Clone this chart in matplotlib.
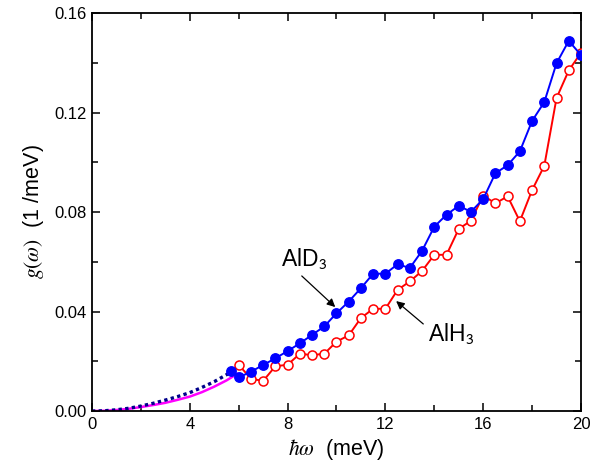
import matplotlib
matplotlib.use("Agg")
import matplotlib.pyplot as plt
from matplotlib.ticker import MultipleLocator, FormatStrFormatter

plt.rcParams['font.family'] = ['Liberation Sans', 'DejaVu Sans']
plt.rcParams['mathtext.fontset'] = 'stix'

# AlD3 (filled blue)
ald3_x = [5.7, 6.0, 6.5, 7.0, 7.5, 8.0, 8.5, 9.0, 9.5, 10.0, 10.5, 11.0, 11.5, 12.0,
          12.5, 13.0, 13.5, 14.0, 14.5, 15.0, 15.5, 16.0, 16.5, 17.0, 17.5, 18.0,
          18.5, 19.0, 19.5, 20.0]
ald3_y = [0.0162, 0.0135, 0.0158, 0.0185, 0.0212, 0.0241, 0.0272, 0.0306, 0.0340,
          0.0393, 0.0440, 0.0494, 0.0552, 0.0552, 0.0590, 0.0575, 0.0644, 0.0741,
          0.0789, 0.0825, 0.0801, 0.0852, 0.0956, 0.0988, 0.1044, 0.1166, 0.1242,
          0.1398, 0.1488, 0.1431]

# AlH3 (open red)
alh3_x = [6.0, 6.5, 7.0, 7.5, 8.0, 8.5, 9.0, 9.5, 10.0, 10.5, 11.0, 11.5, 12.0, 12.5,
          13.0, 13.5, 14.0, 14.5, 15.0, 15.5, 16.0, 16.5, 17.0, 17.5, 18.0, 18.5,
          19.0, 19.5, 20.0]
alh3_y = [0.0186, 0.0130, 0.0121, 0.0180, 0.0186, 0.0230, 0.0225, 0.0230, 0.0279,
          0.0304, 0.0374, 0.0411, 0.0411, 0.0487, 0.0521, 0.0563, 0.0628, 0.0628,
          0.0732, 0.0765, 0.0866, 0.0835, 0.0863, 0.0763, 0.0888, 0.0986, 0.1258,
          0.1369, 0.1440]

# low-energy extrapolations
dot_x = [0.0, 0.5, 1.0, 1.5, 2.0, 2.5, 3.0, 3.5, 4.0, 4.5, 5.0, 5.5, 5.7]
dot_y = [0.0, 0.0001, 0.0005, 0.0011, 0.0020, 0.0031, 0.0044, 0.0058, 0.0074,
         0.0095, 0.0118, 0.0146, 0.0158]
mag_x = [0.0, 0.5, 1.0, 1.5, 2.0, 2.5, 3.0, 3.5, 4.0, 4.5, 5.0, 5.5, 5.95]
mag_y = [0.0, 0.0001, 0.0004, 0.0009, 0.0016, 0.0024, 0.0033, 0.0045, 0.0058,
         0.0076, 0.0098, 0.0123, 0.0150]

fig = plt.figure(figsize=(6.0, 4.73), dpi=100)
ax = fig.add_axes([0.1533, 0.131, 0.815, 0.8415])

ax.plot(mag_x, mag_y, color='#ff00ff', lw=1.8, zorder=2)
ax.plot(dot_x, dot_y, color='#00008b', lw=2.4, ls=(0, (1, 1)), zorder=2)
ax.plot(alh3_x, alh3_y, color='#ff0000', lw=1.4, marker='o', ms=6.5,
        mfc='white', mec='#ff0000', mew=1.1, zorder=3)
ax.plot(ald3_x, ald3_y, color='#0000ff', lw=1.4, marker='o', ms=6.8,
        mfc='#0000ff', mec='#0000ff', zorder=4)

ax.set_xlim(0, 20)
ax.set_ylim(0, 0.16)
ax.xaxis.set_major_locator(MultipleLocator(4))
ax.xaxis.set_minor_locator(MultipleLocator(2))
ax.yaxis.set_major_locator(MultipleLocator(0.04))
ax.yaxis.set_minor_locator(MultipleLocator(0.02))
ax.yaxis.set_major_formatter(FormatStrFormatter('%.2f'))
ax.tick_params(which='both', direction='in', top=True, right=True, labelsize=12)
ax.tick_params(which='major', length=6, width=1.1, pad=4)
ax.tick_params(which='minor', length=4, width=1.1)
for s in ax.spines.values():
    s.set_linewidth(1.3)

ax.set_xlabel(r'$\hbar\omega$  (meV)', fontsize=15.5, labelpad=4)
ax.set_ylabel(r'$g(\omega)$  (1 /meV)', fontsize=15.5, labelpad=6)

ax.annotate('', xy=(9.95, 0.0418), xytext=(8.58, 0.0543),
            arrowprops=dict(arrowstyle='-|>', color='black', lw=0.9,
                            mutation_scale=12, shrinkA=0, shrinkB=0))
ax.annotate('', xy=(12.44, 0.0442), xytext=(13.55, 0.0350),
            arrowprops=dict(arrowstyle='-|>', color='black', lw=0.9,
                            mutation_scale=12, shrinkA=0, shrinkB=0))
ax.text(7.74, 0.0583, r'AlD$_{\mathsf{3}}$', fontsize=16.5, ha='left', va='baseline')
ax.text(13.74, 0.0283, r'AlH$_{\mathsf{3}}$', fontsize=16.5, ha='left', va='baseline')

fig.savefig('out.png', dpi=100)
